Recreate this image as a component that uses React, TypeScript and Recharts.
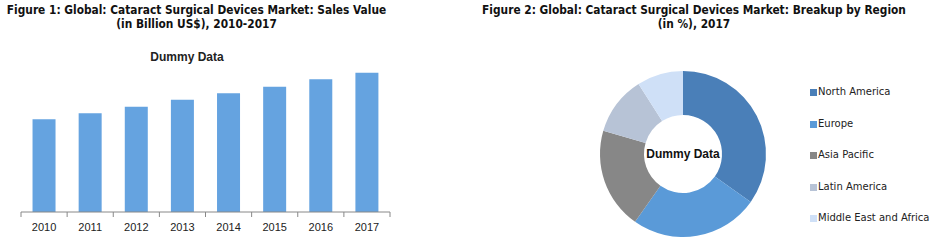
import { BarChart, Bar, XAxis, YAxis, PieChart, Pie, Cell } from 'recharts';

const YEARS = ['2010', '2011', '2012', '2013', '2014', '2015', '2016', '2017'];
const SALES = [2.78, 2.96, 3.16, 3.37, 3.56, 3.76, 3.98, 4.18];

const REGIONS = ['North America', 'Europe', 'Asia Pacific', 'Latin America', 'Middle East and Africa'];
const SHARES = [34.8, 25.0, 19.7, 11.5, 9.0];
const REGION_COLORS = ['#4a7fb8', '#5a9ad8', '#878787', '#b7c3d6', '#cfe0f7'];

const salesData = YEARS.map((year, i) => ({ year, value: SALES[i] }));
const regionData = REGIONS.map((name, i) => ({ name, value: SHARES[i] }));

const titleStyle: React.CSSProperties = {
  position: 'absolute',
  top: 4,
  fontFamily: '"DejaVu Sans Condensed", "DejaVu Sans", sans-serif',
  fontWeight: 'bold',
  fontSize: 11.8,
  lineHeight: '13.5px',
  textAlign: 'center',
  color: '#111',
};

const BAR_LEFT = 21;
const BAR_RIGHT = 10;
const BAR_W = 400;
const BAND = (BAR_W - BAR_LEFT - BAR_RIGHT) / YEARS.length;

function YearTick(props: any) {
  const { x, y, payload, index } = props;
  return (
    <g>
      <line x1={x - BAND / 2} x2={x - BAND / 2} y1={y - 8} y2={y - 3} stroke="#888" />
      {index === YEARS.length - 1 && (
        <line x1={x + BAND / 2} x2={x + BAND / 2} y1={y - 8} y2={y - 3} stroke="#888" />
      )}
      <text x={x} y={y + 11} textAnchor="middle" fontSize={11} fill="#222"
        fontFamily='"Liberation Sans", Arial, sans-serif'>
        {payload.value}
      </text>
    </g>
  );
}

function RegionLegend() {
  return (
    <div style={{ position: 'absolute', left: 810, top: 76, fontFamily: '"DejaVu Sans", sans-serif', fontSize: 10, color: '#222' }}>
      {regionData.map((d, i) => (
        <div key={d.name} style={{ height: 31.5, display: 'flex', alignItems: 'center' }}>
          <span style={{ width: 7, height: 7, background: REGION_COLORS[i], marginRight: 1, marginTop: 2 }} />
          <span>{d.name}</span>
        </div>
      ))}
    </div>
  );
}

export default function App() {
  return (
    <div style={{ position: 'absolute', left: 0, top: 0, width: 935, height: 251, background: '#fff' }}>
      <div style={{ ...titleStyle, left: 0, width: 393 }}>
        Figure 1: Global: Cataract Surgical Devices Market: Sales Value<br />(in Billion US$), 2010-2017
      </div>
      <div style={{ ...titleStyle, left: 470, width: 448 }}>
        Figure 2: Global: Cataract Surgical Devices Market: Breakup by Region<br />(in %), 2017
      </div>

      <div style={{ position: 'absolute', left: 0, top: 0 }}>
        <BarChart width={BAR_W} height={251} data={salesData}
          margin={{ top: 62, right: BAR_RIGHT, bottom: 9, left: BAR_LEFT }} barCategoryGap="25%">
          <text x={187} y={61} textAnchor="middle" fontSize={12} fontWeight="bold" fill="#222"
            fontFamily='"Liberation Sans", Arial, sans-serif'>
            Dummy Data
          </text>
          <XAxis dataKey="year" height={30} axisLine={{ stroke: '#888' }} tickLine={false}
            tick={<YearTick />} interval={0} />
          <YAxis hide domain={[0, 4.5]} />
          <Bar dataKey="value" fill="#65a3e0" isAnimationActive={false} />
        </BarChart>
      </div>

      <div style={{ position: 'absolute', left: 400, top: 0 }}>
        <PieChart width={400} height={251} margin={{ top: 0, right: 0, bottom: 0, left: 0 }}>
          <Pie data={regionData} dataKey="value" nameKey="name" cx={283} cy={154}
            innerRadius={39} outerRadius={83} startAngle={90} endAngle={-270}
            stroke="none" isAnimationActive={false}>
            {regionData.map((d, i) => (
              <Cell key={d.name} fill={REGION_COLORS[i]} />
            ))}
          </Pie>
          <text x={283} y={158} textAnchor="middle" fontSize={12} fontWeight="bold" fill="#111"
            fontFamily='"Liberation Sans", Arial, sans-serif'>
            Dummy Data
          </text>
        </PieChart>
      </div>
      <RegionLegend />
    </div>
  );
}
